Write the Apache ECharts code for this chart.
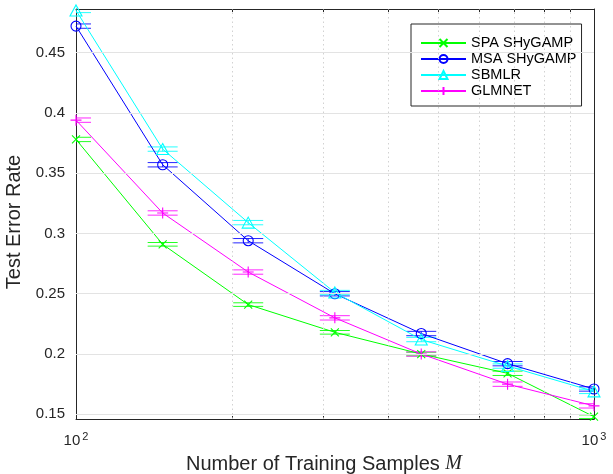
<!DOCTYPE html>
<html><head><meta charset="utf-8">
<script src="https://cdn.jsdelivr.net/npm/echarts@6/dist/echarts.min.js"></script>
<style>html,body{margin:0;padding:0;background:#fff}#c{width:613px;height:474px}</style>
</head><body><div id="c"></div>
<script>
// ---- data ----
const samples = [100, 147, 215, 316, 464, 681, 1000];
const spa    = [0.378, 0.291, 0.241, 0.218, 0.200, 0.184, 0.148];
const msa    = [0.472, 0.357, 0.294, 0.250, 0.217, 0.192, 0.171];
const sbmlr  = [0.485, 0.370, 0.309, 0.251, 0.212, 0.190, 0.169];
const glmnet = [0.394, 0.317, 0.268, 0.230, 0.200, 0.175, 0.157];
const spaErr    = [0.0018, 0.0015, 0.0015, 0.0015, 0.0015, 0.0018, 0.0015];
const msaErr    = [0.0018, 0.0018, 0.0018, 0.0018, 0.0018, 0.0018, 0.0018];
const sbmlrErr  = [0.0018, 0.0018, 0.0018, 0.0018, 0.0018, 0.0018, 0.0018];
const glmnetErr = [0.0018, 0.0018, 0.0018, 0.0018, 0.0018, 0.0018, 0.0018];
const seriesNames = ['SPA SHyGAMP', 'MSA SHyGAMP', 'SBMLR', 'GLMNET'];
const yTicks = [0.15, 0.2, 0.25, 0.3, 0.35, 0.4, 0.45];
const xMajorTicks = [100, 1000];
const xMinorTicks = [100, 200, 300, 400, 500, 600, 700, 800, 900, 1000];
const xGridLines = [200, 300, 400, 500, 600, 700, 800, 900];
const yMin = 0.1461, yMax = 0.4862;

// ---- styling ----
const colors = ['#00ff00', '#0000ff', '#00ffff', '#ff00ff'];
const symbols = [
  'path://M0,0L10,10M10,0L0,10',
  'path://M10,5A5,5,0,1,1,0,5A5,5,0,1,1,10,5Z',
  'path://M5,0L10,9L0,9Z',
  'path://M5,0L5,10M0,5L10,5'
];
const symbolSizes = [8, 10, [12, 11], 11];
const axisColor = '#262626';
const FONT = 'Liberation Sans, Arial, sans-serif';

const values = [spa, msa, sbmlr, glmnet];
const errs = [spaErr, msaErr, sbmlrErr, glmnetErr];

const series = [];
// grid lines (via library scales)
series.push({
  type: 'line', data: [], silent: true, z: 1, xAxisIndex: 0, yAxisIndex: 0,
  markLine: {
    silent: true, symbol: 'none', label: {show: false}, animation: false,
    data: [
      ...yTicks.map(v => ({yAxis: v, lineStyle: {color: '#e3e3e3', width: 1.2, type: 'solid'}})),
      ...xGridLines.map(v => ({xAxis: v, lineStyle: {color: '#d2d2d2', width: 1, type: [1.5, 3]}}))
    ]
  }
});
values.forEach((vals, i) => {
  series.push({
    name: seriesNames[i], type: 'line', z: 3,
    data: samples.map((x, k) => [x, vals[k]]),
    symbol: symbols[i], symbolSize: symbolSizes[i], showAllSymbol: true,
    clip: false,
    lineStyle: {color: colors[i], width: 1},
    itemStyle: {color: 'rgba(0,0,0,0)', borderColor: colors[i], borderWidth: 1.1},
    emphasis: {disabled: true},
    animation: false
  });
  series.push({
    type: 'custom', z: 2, clip: true, silent: true, animation: false,
    data: samples.map((x, k) => [x, vals[k] - errs[i][k], vals[k] + errs[i][k]]),
    encode: {x: 0, y: [1, 2]},
    renderItem: (params, api) => {
      const lo = api.coord([api.value(0), api.value(1)]);
      const hi = api.coord([api.value(0), api.value(2)]);
      const w = 15;
      const st = {stroke: colors[i], lineWidth: 1, opacity: 0.85};
      return {type: 'group', children: [
        {type: 'line', shape: {x1: lo[0], y1: lo[1], x2: hi[0], y2: hi[1]}, style: st},
        {type: 'line', shape: {x1: lo[0] - w, y1: lo[1], x2: lo[0] + w, y2: lo[1]}, style: st},
        {type: 'line', shape: {x1: hi[0] - w, y1: hi[1], x2: hi[0] + w, y2: hi[1]}, style: st}
      ]};
    }
  });
});

const option = {
  animation: false,
  backgroundColor: '#ffffff',
  textStyle: {fontFamily: FONT},
  grid: {left: 76, right: 19, top: 9, bottom: 55, containLabel: false, outerBoundsMode: 'none'},
  legend: {
    orient: 'vertical', left: 411, top: 24,
    padding: [11, 5, 7, 9],
    itemWidth: 45, itemHeight: 10, itemGap: 0,
    borderColor: '#262626', borderWidth: 1, backgroundColor: '#ffffff',
    textStyle: {fontFamily: FONT, fontSize: 14.5, color: '#000', lineHeight: 16},
    data: seriesNames, selectedMode: false
  },
  xAxis: [{
    type: 'log', logBase: 10, min: 100, max: 1000, position: 'bottom',
    axisLine: {show: true, onZero: false, lineStyle: {color: axisColor, width: 1}},
    axisTick: {show: true, inside: true, length: 3, customValues: xMinorTicks, lineStyle: {color: axisColor}},
    splitLine: {show: false}, minorTick: {show: false},
    axisLabel: {
      customValues: xMajorTicks, margin: 12, color: axisColor,
      formatter: v => '{b|10}{s|' + Math.round(Math.log10(v)) + '}',
      rich: {
        b: {fontSize: 15, fontFamily: FONT, color: axisColor},
        s: {fontSize: 11, fontFamily: FONT, color: axisColor, padding: [0, 0, 9, 2]}
      }
    },
    name: '{t|Number of Training Samples }{m|M}',
    nameLocation: 'middle', nameGap: 35,
    nameTextStyle: {
      padding: [0, 22, 0, 0],
      rich: {
        t: {fontSize: 20, fontFamily: FONT, color: '#262626'},
        m: {fontSize: 20, fontFamily: 'Liberation Serif, DejaVu Serif, serif', fontStyle: 'italic', color: '#262626'}
      }
    }
  }, {
    type: 'log', logBase: 10, min: 100, max: 1000, position: 'top',
    axisLine: {show: true, onZero: false, lineStyle: {color: axisColor, width: 1}},
    axisTick: {show: true, inside: true, length: 3, customValues: xMinorTicks, lineStyle: {color: axisColor}},
    axisLabel: {show: false}, splitLine: {show: false}
  }],
  yAxis: [{
    type: 'value', min: yMin, max: yMax, position: 'left',
    axisLine: {show: true, onZero: false, lineStyle: {color: axisColor, width: 1}},
    axisTick: {show: true, inside: true, length: 5, customValues: yTicks, lineStyle: {color: axisColor}},
    axisLabel: {customValues: yTicks, fontSize: 15, color: axisColor, margin: 11, fontFamily: FONT},
    splitLine: {show: false},
    name: 'Test Error Rate', nameLocation: 'middle', nameGap: 43, nameRotate: 90,
    nameTextStyle: {fontSize: 20, color: '#262626', fontFamily: FONT, padding: [0, 16, 0, 0]}
  }, {
    type: 'value', min: yMin, max: yMax, position: 'right',
    axisLine: {show: true, onZero: false, lineStyle: {color: axisColor, width: 1}},
    axisTick: {show: true, inside: true, length: 5, customValues: yTicks, lineStyle: {color: axisColor}},
    axisLabel: {show: false}, splitLine: {show: false}
  }],
  series: series
};
const chart = echarts.init(document.getElementById('c'), null, {renderer: 'canvas'});
chart.setOption(option);
</script></body></html>
